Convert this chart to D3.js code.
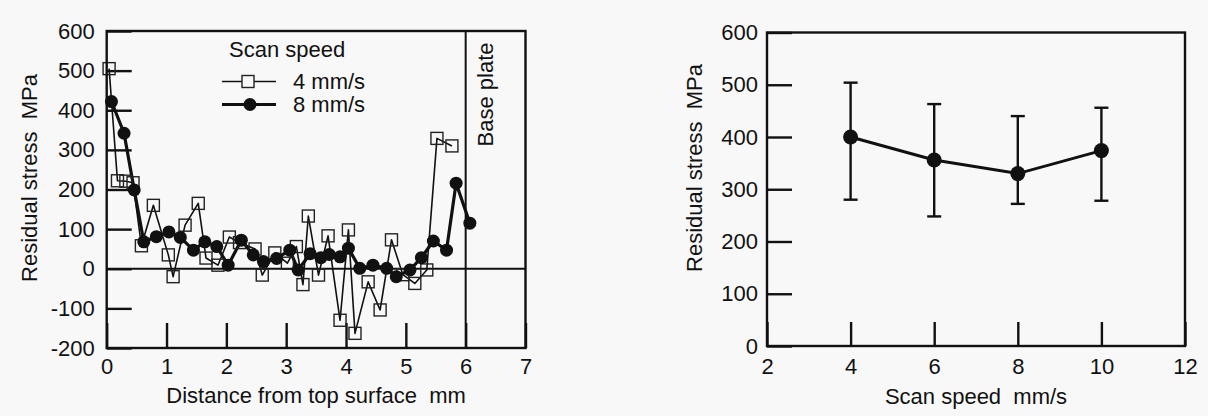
<!DOCTYPE html>
<html>
<head>
<meta charset="utf-8">
<script src="https://cdn.jsdelivr.net/npm/d3@7"></script>
<style>
  html, body { margin: 0; padding: 0; background: #f8f8f8; }
  svg { display: block; }
  text { font-family: "Liberation Sans", Arial, Helvetica, sans-serif; fill: #111; white-space: pre; }
</style>
</head>
<body>
<svg id="chart" width="1208" height="416"></svg>
<script>
// Residual stress profile along build depth, two scan speeds
const depth4  = [0.04, 0.18, 0.32, 0.44, 0.58, 0.78, 1.03, 1.11, 1.31, 1.53, 1.66, 1.86, 2.05, 2.22, 2.48, 2.60, 2.81, 3.02, 3.17, 3.28, 3.37, 3.54, 3.70, 3.90, 4.04, 4.15, 4.37, 4.57, 4.76, 4.95, 5.15, 5.35, 5.52, 5.77];
const stress4 = [505, 222, 221, 217, 58, 160, 35, -20, 110, 165, 27, 9, 80, 66, 50, -16, 40, 14, 56, -40, 133, -16, 83, -130, 98, -163, -33, -104, 73, -15, -37, -3, 329, 310];

const depth8  = [0.08, 0.29, 0.46, 0.62, 0.83, 1.04, 1.23, 1.45, 1.64, 1.84, 2.03, 2.25, 2.45, 2.62, 2.84, 3.06, 3.20, 3.40, 3.58, 3.72, 3.90, 4.04, 4.23, 4.45, 4.68, 4.84, 5.07, 5.26, 5.46, 5.68, 5.84, 6.07];
const stress8 = [422, 342, 199, 68, 81, 93, 79, 47, 68, 56, 9, 72, 35, 18, 26, 47, -3, 38, 28, 36, 30, 52, 1, 9, 1, -20, -3, 28, 70, 47, 216, 115];

const depthTicks   = [0, 1, 2, 3, 4, 5, 6, 7];
const stressTicksA = [-200, -100, 0, 100, 200, 300, 400, 500, 600];
const basePlateAt  = 6;

// Mean residual stress against scan speed, with scatter bands
const speeds     = [4, 6, 8, 10];
const meanStress = [400, 356, 330, 374];
const lowStress  = [280, 248, 272, 278];
const highStress = [504, 463, 440, 456];

const speedTicks   = [2, 4, 6, 8, 10, 12];
const stressTicksB = [0, 100, 200, 300, 400, 500, 600];

const svg = d3.select("#chart");
const FONT = 22;
const plain = d => String(d);   // ASCII hyphen for negatives

function styleAxis(g) {
  g.select(".domain").remove();
  g.selectAll(".tick line").attr("stroke", "#111").attr("stroke-width", 2.4);
  g.selectAll(".tick text").attr("font-size", FONT).attr("fill", "#111")
    .style("font-family", '"Liberation Sans", Arial, sans-serif');
}

// ---------- left panel ----------
const A = { left: 106.7, right: 525.5, top: 31, bottom: 348 };
const xA = d3.scaleLinear().domain([0, 7]).range([A.left, A.right]);
const yA = d3.scaleLinear().domain([-200, 600]).range([A.bottom, A.top]);
const gA = svg.append("g");

const axA_x = d3.axisBottom(xA).tickValues(depthTicks).tickFormat(plain)
  .tickSizeInner(-25).tickSizeOuter(0).tickPadding(10);
const axA_y = d3.axisLeft(yA).tickValues(stressTicksA).tickFormat(plain)
  .tickSizeInner(-25).tickSizeOuter(0).tickPadding(12);

gA.append("g").attr("transform", `translate(0,${A.bottom})`).call(axA_x).call(styleAxis);
gA.append("g").attr("transform", `translate(${A.left},0)`).call(axA_y).call(styleAxis);

// zero line and base plate boundary
gA.append("line").attr("x1", A.left).attr("x2", A.right).attr("y1", yA(0)).attr("y2", yA(0))
  .attr("stroke", "#111").attr("stroke-width", 2);
gA.append("line").attr("x1", xA(basePlateAt)).attr("x2", xA(basePlateAt)).attr("y1", A.top).attr("y2", A.bottom)
  .attr("stroke", "#111").attr("stroke-width", 2);

gA.append("text").attr("transform", `translate(${xA(6.33)},${yA(440)}) rotate(-90)`)
  .attr("text-anchor", "middle").attr("dy", "0.35em").attr("font-size", FONT).text("Base plate");

const lineA = d3.line().x(d => xA(d[0])).y(d => yA(d[1]));
const pts4 = depth4.map((d, i) => [d, stress4[i]]);
const pts8 = depth8.map((d, i) => [d, stress8[i]]);

gA.append("path").datum(pts4).attr("d", lineA).attr("fill", "none")
  .attr("stroke", "#111").attr("stroke-width", 1.6).attr("stroke-linejoin", "round");
gA.append("path").datum(pts8).attr("d", lineA).attr("fill", "none")
  .attr("stroke", "#111").attr("stroke-width", 3.2).attr("stroke-linejoin", "round");

const SQ = 12;
gA.selectAll("rect.sq").data(pts4).join("rect").attr("class", "sq")
  .attr("x", d => xA(d[0]) - SQ / 2).attr("y", d => yA(d[1]) - SQ / 2)
  .attr("width", SQ).attr("height", SQ).attr("fill", "none")
  .attr("stroke", "#222").attr("stroke-width", 1.4);
gA.selectAll("circle.dot").data(pts8).join("circle").attr("class", "dot")
  .attr("cx", d => xA(d[0])).attr("cy", d => yA(d[1])).attr("r", 6.5).attr("fill", "#111");

// legend
const lg = gA.append("g");
lg.append("text").attr("x", 229).attr("y", 57).attr("font-size", FONT).text("Scan speed");
lg.append("line").attr("x1", 222).attr("x2", 276).attr("y1", 81.5).attr("y2", 81.5).attr("stroke", "#111").attr("stroke-width", 1.6);
lg.append("rect").attr("x", 248 - SQ / 2).attr("y", 81.5 - SQ / 2).attr("width", SQ).attr("height", SQ)
  .attr("fill", "#f8f8f8").attr("stroke", "#222").attr("stroke-width", 1.4);
lg.append("text").attr("x", 293).attr("y", 89).attr("font-size", FONT).text("4 mm/s");
lg.append("line").attr("x1", 222).attr("x2", 276).attr("y1", 104.5).attr("y2", 104.5).attr("stroke", "#111").attr("stroke-width", 3.2);
lg.append("circle").attr("cx", 250).attr("cy", 104.5).attr("r", 6.5).attr("fill", "#111");
lg.append("text").attr("x", 293).attr("y", 112).attr("font-size", FONT).text("8 mm/s");

gA.append("rect").attr("x", A.left).attr("y", A.top).attr("width", A.right - A.left).attr("height", A.bottom - A.top)
  .attr("fill", "none").attr("stroke", "#111").attr("stroke-width", 2.4);

gA.append("text").attr("x", (A.left + A.right) / 2).attr("y", 403).attr("text-anchor", "middle")
  .attr("font-size", FONT).text("Distance from top surface  mm");
gA.append("text").attr("transform", "translate(37,178) rotate(-90)")
  .attr("text-anchor", "middle").attr("font-size", FONT).text("Residual stress  MPa");

// ---------- right panel ----------
const B = { left: 767, right: 1185, top: 32.5, bottom: 346 };
const xB = d3.scaleLinear().domain([2, 12]).range([B.left, B.right]);
const yB = d3.scaleLinear().domain([0, 600]).range([B.bottom, B.top]);
const gB = svg.append("g");

const axB_x = d3.axisBottom(xB).tickValues(speedTicks).tickFormat(plain)
  .tickSizeInner(-24).tickSizeOuter(0).tickPadding(12);
const axB_y = d3.axisLeft(yB).tickValues(stressTicksB).tickFormat(plain)
  .tickSizeInner(-25).tickSizeOuter(0).tickPadding(9);
gB.append("g").attr("transform", `translate(0,${B.bottom})`).call(axB_x).call(styleAxis);
gB.append("g").attr("transform", `translate(${B.left},0)`).call(axB_y).call(styleAxis);

const rows = speeds.map((s, i) => ({ s, m: meanStress[i], lo: lowStress[i], hi: highStress[i] }));
const CAP = 7;
const eb = gB.selectAll("g.err").data(rows).join("g").attr("class", "err");
eb.append("line").attr("x1", d => xB(d.s)).attr("x2", d => xB(d.s)).attr("y1", d => yB(d.lo)).attr("y2", d => yB(d.hi))
  .attr("stroke", "#111").attr("stroke-width", 2.4);
eb.append("line").attr("x1", d => xB(d.s) - CAP).attr("x2", d => xB(d.s) + CAP).attr("y1", d => yB(d.hi)).attr("y2", d => yB(d.hi))
  .attr("stroke", "#111").attr("stroke-width", 2.4);
eb.append("line").attr("x1", d => xB(d.s) - CAP).attr("x2", d => xB(d.s) + CAP).attr("y1", d => yB(d.lo)).attr("y2", d => yB(d.lo))
  .attr("stroke", "#111").attr("stroke-width", 2.4);

gB.append("path").datum(rows).attr("d", d3.line().x(d => xB(d.s)).y(d => yB(d.m)))
  .attr("fill", "none").attr("stroke", "#111").attr("stroke-width", 3);
gB.selectAll("circle.m").data(rows).join("circle").attr("class", "m")
  .attr("cx", d => xB(d.s)).attr("cy", d => yB(d.m)).attr("r", 7.5).attr("fill", "#111");

gB.append("rect").attr("x", B.left).attr("y", B.top).attr("width", B.right - B.left).attr("height", B.bottom - B.top)
  .attr("fill", "none").attr("stroke", "#111").attr("stroke-width", 2.4);

gB.append("text").attr("x", (B.left + B.right) / 2).attr("y", 404).attr("text-anchor", "middle")
  .attr("font-size", FONT).text("Scan speed  mm/s");
gB.append("text").attr("transform", "translate(702,168) rotate(-90)")
  .attr("text-anchor", "middle").attr("font-size", FONT).text("Residual stress  MPa");
</script>
</body>
</html>
